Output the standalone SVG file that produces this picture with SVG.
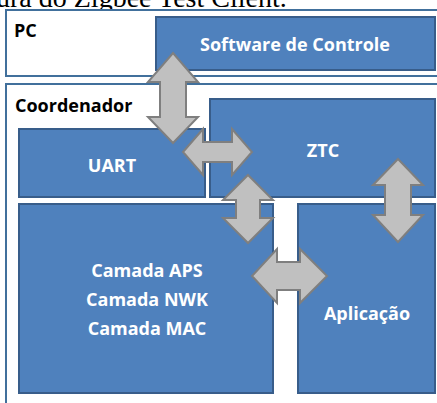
<svg xmlns="http://www.w3.org/2000/svg" width="437" height="403" viewBox="0 0 437 403">
  <style>
    .frame { fill: #ffffff; stroke: #41709c; stroke-width: 2; }
    .block { fill: #4f81bd; stroke: #385d8a; stroke-width: 2; }
    .head { font-family: "Open Sans", "Liberation Sans", sans-serif; font-weight: bold; font-size: 18px; fill: #000000; }
    .label { font-family: "Open Sans", "Liberation Sans", sans-serif; font-weight: bold; font-size: 18px; fill: #ffffff; text-anchor: middle; }
    .caption { font-family: "Liberation Serif", serif; font-size: 28px; fill: #000000; }
    .arrow { fill: #c0c0c0; stroke: #7f7f7f; stroke-width: 2; stroke-linejoin: miter; }
  </style>

  <rect width="437" height="403" fill="#ffffff"/>

  <!-- caption line, partly above the top edge -->
  <text class="caption" x="-4" y="7">ura do Zigbee Test Client.</text>

  <!-- PC container -->
  <g id="pc">
    <rect class="frame" x="6" y="10" width="440" height="66"/>
    <text class="head" x="14" y="37">PC</text>
  </g>

  <g id="software-de-controle">
    <rect class="block" x="156" y="17" width="279" height="53"/>
    <text class="label" x="295" y="51">Software de Controle</text>
  </g>

  <!-- Coordenador container -->
  <g id="coordenador">
    <rect class="frame" x="6" y="84" width="440" height="330"/>
    <text class="head" x="15" y="112">Coordenador</text>
  </g>

  <g id="uart">
    <rect class="block" x="19" y="129" width="186" height="68"/>
    <text class="label" x="112" y="172">UART</text>
  </g>

  <g id="ztc">
    <rect class="block" x="210" y="99" width="225" height="98"/>
    <text class="label" x="323" y="157">ZTC</text>
  </g>

  <g id="camadas">
    <rect class="block" x="19" y="204" width="254" height="189"/>
    <text class="label" x="147" y="277">Camada APS</text>
    <text class="label" x="147" y="306">Camada NWK</text>
    <text class="label" x="147" y="335">Camada MAC</text>
  </g>

  <g id="aplicacao">
    <rect class="block" x="298" y="204" width="137" height="189"/>
    <text class="label" x="367" y="320">Aplicação</text>
  </g>

  <!-- double-headed block arrows -->
  <g id="connectors">
    <path class="arrow" d="M173,53 L198,82 L186,82 L186,117 L198,117 L173,143 L148,117 L160,117 L160,82 L148,82 Z"/>
    <path class="arrow" d="M183,152 L203,129 L203,142 L232,142 L232,129 L252,152 L232,175 L232,162 L203,162 L203,175 Z"/>
    <path class="arrow" d="M248,175 L273,200 L260,200 L260,218 L273,218 L248,243 L223,218 L236,218 L236,200 L223,200 Z"/>
    <path class="arrow" d="M252,276 L277,249 L277,262 L300,262 L300,249 L327,276 L300,303 L300,290 L277,290 L277,303 Z"/>
    <path class="arrow" d="M398,159 L423,185 L411,185 L411,215 L423,215 L398,242 L373,215 L385,215 L385,185 L373,185 Z"/>
  </g>
</svg>
